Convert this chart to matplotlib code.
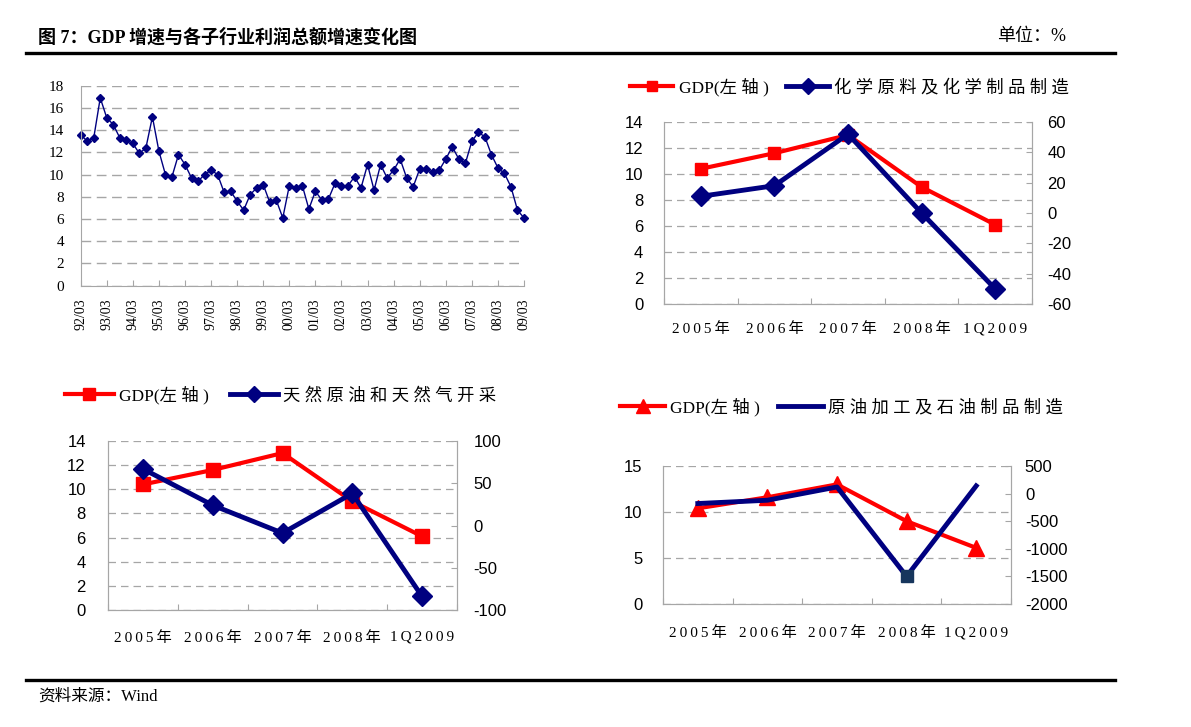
import numpy as np
import matplotlib
matplotlib.use("Agg")
import matplotlib.pyplot as plt
from matplotlib.lines import Line2D

plt.rcParams["axes.unicode_minus"] = False

# ---------------- data ----------------
quarter_labels = ["92/03", "93/03", "94/03", "95/03", "96/03", "97/03", "98/03", "99/03",
                  "00/03", "01/03", "02/03", "03/03", "04/03", "05/03", "06/03", "07/03",
                  "08/03", "09/03"]
gdp_quarterly = [13.6, 13.0, 13.3, 16.9, 15.1, 14.5, 13.3, 13.1, 12.8, 11.9, 12.4, 15.2,
                 12.1, 10.0, 9.8, 11.8, 10.9, 9.7, 9.4, 10.0, 10.4, 10.0, 8.4, 8.5,
                 7.6, 6.8, 8.2, 8.8, 9.1, 7.5, 7.7, 6.1, 9.0, 8.8, 9.0, 6.9,
                 8.5, 7.7, 7.8, 9.2, 9.0, 9.0, 9.8, 8.8, 10.9, 8.6, 10.9, 9.7,
                 10.4, 11.4, 9.7, 8.9, 10.5, 10.5, 10.2, 10.4, 11.4, 12.5, 11.4, 11.0,
                 13.0, 13.8, 13.4, 11.8, 10.6, 10.1, 8.9, 6.8, 6.1]

categories = ["2005年", "2006年", "2007年", "2008年", "1Q2009"]
gdp_annual = [10.4, 11.6, 13.0, 9.0, 6.1]
chem_profit = [11, 18, 52, 0, -50]
oilgas_profit = [67, 24, -9, 38, -84]
petro_profit = [-180, -120, 120, -1500, 140]

gdp_name = "GDP(左轴)"
chem_name = "化学原料及化学制品制造"
oilgas_name = "天然原油和天然气开采"
petro_name = "原油加工及石油制品制造"

title_text = "图 7：GDP 增速与各子行业利润总额增速变化图"
unit_text = "单位：%"
source_text = "资料来源：Wind"

# ---------------- style ----------------
W, H = 1191, 727
RED = "#FF0000"
NAVY = "#000080"
GRID = "#A6A6A6"
SPINE = "#A6A6A6"
SERIF = ["Liberation Serif", "Noto Sans CJK SC", "DejaVu Serif"]
SANS = ["Liberation Sans", "DejaVu Sans"]
CJK = ["Liberation Serif", "Noto Sans CJK SC", "DejaVu Sans"]

def spaced(s, sep="\u2009"):
    return sep.join(list(s))

def cjk_spaced(s):
    out = ""
    for ch in s:
        out += ch
        if ord(ch) > 0x2E80:
            out += " "
    return out.rstrip()

def rect(l, r, t, b):
    return [l / W, 1 - b / H, (r - l) / W, (b - t) / H]

fig = plt.figure(figsize=(W / 100, H / 100), dpi=100)

# header / footer
fig.text(38 / W, 1 - 37 / H, title_text, fontsize=13, fontweight="bold",
         family=CJK, va="center", ha="left")
fig.text(997 / W, 1 - 37 / H, unit_text, fontsize=13, family=CJK, va="center", ha="left")
fig.add_artist(Line2D([26 / W, 1115 / W], [1 - 53 / H] * 2, color="black", lw=2.4))
fig.add_artist(Line2D([26 / W, 1115 / W], [1 - 680 / H] * 2, color="black", lw=2.4))
fig.text(38 / W, 1 - 697 / H, source_text, fontsize=12, family=CJK, va="center", ha="left")

# ---------------- top-left: quarterly GDP ----------------
ax = fig.add_axes(rect(80.7, 524, 85.7, 285.7))
xq = np.arange(len(gdp_quarterly))
ax.plot(xq, gdp_quarterly, color=NAVY, lw=1.0, marker="D", ms=4.5, mfc=NAVY, mec=NAVY,
        clip_on=False)
ax.set_xlim(0, len(gdp_quarterly) - 1)
ax.set_ylim(0, 18)
ax.set_yticks(np.arange(0, 19, 2))
ax.set_xticks(np.arange(0, len(gdp_quarterly), 4))
ax.set_xticklabels(quarter_labels, rotation=90, family=SERIF, fontsize=10)
for lab in ax.get_yticklabels():
    lab.set_family(SERIF)
    lab.set_fontsize(11)
ax.tick_params(axis="y", length=0, pad=12)
ax.tick_params(axis="x", direction="in", length=4, color=SPINE, pad=9)
ax.grid(axis="y", color=GRID, lw=1.0, ls=(0, (7, 4)))
ax.set_axisbelow(True)
for s in ["top", "right"]:
    ax.spines[s].set_visible(False)
for s in ["left", "bottom"]:
    ax.spines[s].set_color(SPINE)

# ---------------- helper for dual-axis charts ----------------
def dual(box, ylim_l, yt_l, ylim_r, yt_r, padl, padr, padx):
    a = fig.add_axes(box)
    a.set_xlim(-0.5, len(categories) - 0.5)
    a.set_ylim(*ylim_l)
    a.set_yticks(yt_l)
    a.grid(axis="y", color=GRID, lw=0.9, ls=(0, (6, 4)))
    a.set_axisbelow(True)
    a.set_xticks(np.arange(-0.5, len(categories), 1))
    a.set_xticklabels([])
    a.set_xticks(np.arange(len(categories)), minor=True)
    a.set_xticklabels([spaced(c) for c in categories], minor=True, family=SERIF, fontsize=11)
    a.tick_params(axis="x", which="major", direction="in", length=4, color=SPINE)
    a.tick_params(axis="x", which="minor", length=0, pad=padx)
    a.tick_params(axis="y", length=0, pad=padl, labelsize=12)
    for lab in a.get_yticklabels():
        lab.set_family(SANS)
    b = a.twinx()
    b.set_ylim(*ylim_r)
    b.set_yticks(yt_r)
    b.tick_params(axis="y", direction="in", length=4, color=SPINE, pad=padr, labelsize=12)
    for lab in b.get_yticklabels():
        lab.set_family(SANS)
    for axx in (a, b):
        axx.spines["top"].set_visible(False)
        for s in ["left", "right", "bottom"]:
            axx.spines[s].set_color(SPINE)
    return a, b

xc = np.arange(len(categories))

def add_legend(h1, h2, l1, l2, x0, y0, hl, cs):
    fig.legend([h1, h2], [l1, l2], loc="center left",
               bbox_to_anchor=(x0 / W, 1 - y0 / H), ncol=2, frameon=False,
               borderpad=0, borderaxespad=0, handlelength=hl, handletextpad=0.3,
               columnspacing=cs, markerscale=0.85,
               prop={"family": CJK, "size": 12.5})

# ---------------- top-right: chemicals ----------------
a1, b1 = dual(rect(664, 1032, 122, 304), (0, 14), np.arange(0, 15, 2),
              (-60, 60), np.arange(-60, 61, 20), 15, 11, 13)
h1, = a1.plot(xc, gdp_annual, color=RED, lw=3, marker="s", ms=8, mfc=RED, mec=RED)
h2, = b1.plot(xc, chem_profit, color=NAVY, lw=3.5, marker="D", ms=10, mfc=NAVY, mec=NAVY)
add_legend(h1, h2, cjk_spaced(gdp_name), cjk_spaced(chem_name), 630, 87, 2.5, 1.0)

# ---------------- bottom-left: oil & gas extraction ----------------
a2, b2 = dual(rect(108, 457, 441, 610), (0, 14), np.arange(0, 15, 2),
              (-100, 100), np.arange(-100, 101, 50), 16, 12, 15)
h3, = a2.plot(xc, gdp_annual, color=RED, lw=3, marker="s", ms=10, mfc=RED, mec=RED)
h4, = b2.plot(xc, oilgas_profit, color=NAVY, lw=3.5, marker="D", ms=10, mfc=NAVY, mec=NAVY)
add_legend(h3, h4, cjk_spaced(gdp_name), cjk_spaced(oilgas_name), 65, 395, 2.8, 1.2)

# ---------------- bottom-right: petroleum refining ----------------
a3, b3 = dual(rect(663, 1011, 466, 604), (0, 15), np.arange(0, 16, 5),
              (-2000, 500), np.arange(-2000, 501, 500), 15, 10, 16)
h5, = a3.plot(xc, gdp_annual, color=RED, lw=3, marker="^", ms=12, mfc=RED, mec=RED)
h6, = b3.plot(xc, petro_profit, color=NAVY, lw=3.5)
b3.plot(xc[3], petro_profit[3], ls="none", marker="s", ms=9, mfc="#17365D", mec="#17365D")
add_legend(h5, h6, cjk_spaced(gdp_name), cjk_spaced(petro_name), 620, 407, 2.6, 1.0)

fig.savefig("out.png", dpi=100)
